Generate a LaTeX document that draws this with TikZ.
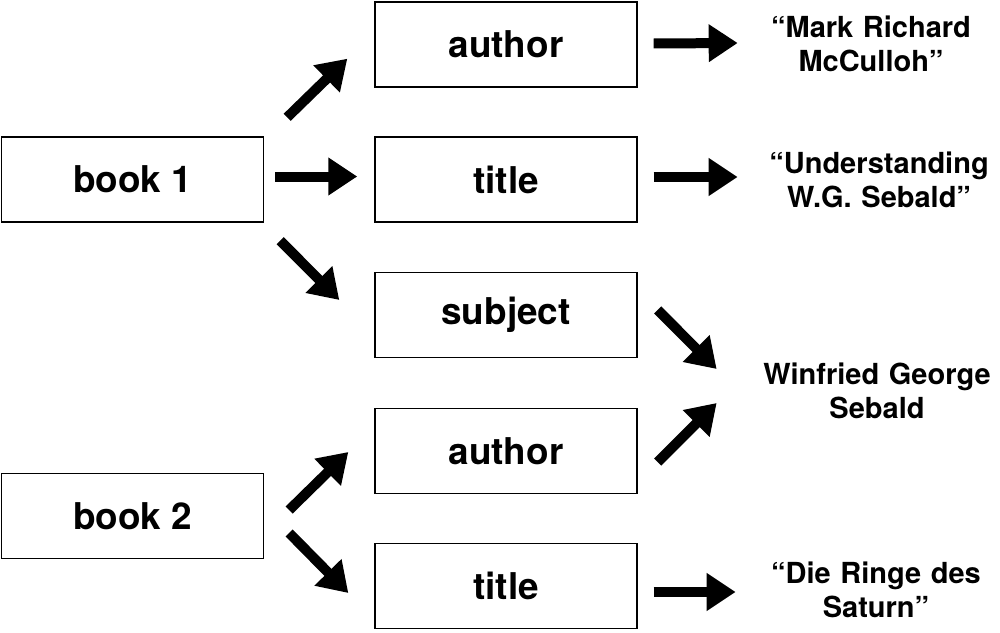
\documentclass[tikz,border=0pt]{standalone}
\usepackage{fontspec}
\setmainfont{TeX Gyre Heros}
\usetikzlibrary{arrows.meta}
\tikzset{
  recbox/.style={draw, line width=0.8pt, minimum width=5.24cm, minimum height=1.7cm,
    inner sep=0pt, font=\bfseries\fontsize{21}{24}\selectfont},
  valtext/.style={text width=4.6cm, align=center, inner sep=0pt,
    font=\bfseries\fontsize{16.5}{19}\selectfont},
  fat/.style={line width=0.2cm, -{Triangle[length=0.58cm, width=0.72cm]}}
}
\begin{document}
\begin{tikzpicture}[x=0.02cm, y=-0.02cm]
            \useasboundingbox (0,0) rectangle (1000,632);

            % boxes
            \node[recbox] (book1)   at (132.5,179.5) {book 1};
            \node[recbox] (book2)   at (132.5,516)   {book 2};
            \node[recbox] (author1) at (506,44.5)    {author};
            \node[recbox] (title1)  at (506,179.5)   {title};
            \node[recbox] (subject) at (506,315)     {subject};
            \node[recbox] (author2) at (506,451)     {author};
            \node[recbox] (title2)  at (506,586)     {title};

            % values
            \node[valtext] (mark)   at (871,44)  {“Mark Richard\\McCulloh”};
            \node[valtext] (under)  at (879,180) {“Understanding\\W.G. Sebald”};
            \node[valtext] (sebald) at (877,391) {Winfried George\\Sebald};
            \node[valtext] (saturn) at (876,590) {“Die Ringe des\\Saturn”};

            % arrows
            \draw[fat] ([shift={(23,-19)}]book1.north east) -- ([shift={(-27,-29)}]author1.south west);
            \draw[fat] ([shift={(11,-3)}]book1.east) -- ([shift={(-17,-3)}]title1.west);
            \draw[fat] ([shift={(16,18)}]book1.south east) -- ([shift={(-35,-15)}]subject.west);

            \draw[fat] ([shift={(16,-1)}]author1.east) -- ([shift={(-18,-1)}]mark.west);
            \draw[fat] ([shift={(16,-2.5)}]title1.east) -- ([shift={(-26,-3)}]under.west);
            \draw[fat] ([shift={(20,-5)}]subject.east) -- ([shift={(-45,-22)}]sebald.west);
            \draw[fat] ([shift={(20,11)}]author2.east) -- ([shift={(-45,12)}]sebald.west);

            \draw[fat] ([shift={(25,-6)}]book2.east) -- ([shift={(-26,1)}]author2.west);
            \draw[fat] ([shift={(25,17)}]book2.east) -- ([shift={(-26,7)}]title2.west);
            \draw[fat] ([shift={(16,6)}]title2.east) -- ([shift={(-25,2)}]saturn.west);
          \end{tikzpicture}
\end{document}
